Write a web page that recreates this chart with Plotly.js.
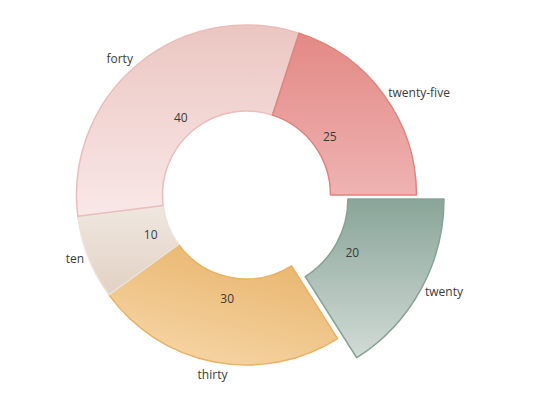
<!DOCTYPE html>
<html>
<head>
<meta charset="utf-8">
<script src="https://cdn.plot.ly/plotly-3.0.1.min.js"></script>
<style>html,body{margin:0;padding:0;background:#fff}#chart{width:550px;height:400px}</style>
</head>
<body>
<div id="chart"></div>
<script>
// ---- data ----
const labels = ['twenty-five', 'forty', 'ten', 'thirty', 'twenty'];
const values = [25, 40, 10, 30, 20];
const pulledLabel = 'twenty';
const centeredLabel = 'thirty';   // label drawn centred under its slice

// ---- style ----
const gradTop    = ['#e38985', '#ebc6c1', '#efe7e0', '#e8b36a', '#89a598'];
const gradBottom = ['#eeb3b2', '#f9e8e8', '#e2d1c3', '#f6d6a6', '#d2dbd7'];
const lineCols   = ['#e0837e', '#ebbcba', '#ece2d9', '#e9b162', '#87a295'];
const W = 550, H = 400;
function dom(cx, cy, r) {
  return {x: [(cx - r) / W, (cx + r) / W], y: [(H - cy - r) / H, (H - cy + r) / H]};
}
const font = {family: 'Open Sans, sans-serif', size: 12, color: '#3a3a3a'};
const clear = 'rgba(0,0,0,0)';

// slices are laid out clockwise from 3 o'clock, so feed them in reverse order
const idx = labels.map((_, i) => labels.length - 1 - i);
const L = idx.map(i => labels[i]);
const V = idx.map(i => values[i]);
const P = L.map(l => l === pulledLabel);
const C = L.map(l => l === centeredLabel);
const TOP = idx.map(i => gradTop[i]);
const LINE = idx.map(i => lineCols[i]);

const base = {
  type: 'pie', labels: L, values: V, sort: false,
  direction: 'clockwise', rotation: 90, hoverinfo: 'none',
  showlegend: false
};

const traces = [
  Object.assign({}, base, {
    domain: dom(246.5, 195, 170), hole: 0.494,
    marker: {colors: P.map((p, i) => p ? clear : TOP[i]),
             line: {color: P.map((p, i) => p ? clear : LINE[i]), width: 1.5}},
    texttemplate: P.map((p, i) => (p || C[i]) ? '' : '%{label}'),
    textposition: 'outside', outsidetextfont: font
  }),
  Object.assign({}, base, {
    domain: dom(256, 199, 188), hole: 0.489,
    marker: {colors: P.map((p, i) => p ? TOP[i] : clear),
             line: {color: P.map((p, i) => p ? LINE[i] : clear), width: 1.5}},
    texttemplate: P.map(p => p ? '%{label}' : ''),
    textposition: 'outside', outsidetextfont: font
  }),
  Object.assign({}, base, {
    domain: dom(264.5, 199, 170), hole: 0.494,
    marker: {colors: L.map(() => clear), line: {width: 0}},
    texttemplate: C.map(c => c ? '%{label}' : ''),
    textposition: 'outside', outsidetextfont: font
  }),
  Object.assign({}, base, {
    domain: dom(246.5, 197, 122), hole: 0.689,
    marker: {colors: L.map(() => clear), line: {width: 0}},
    texttemplate: P.map(p => p ? '' : '%{value}'),
    textposition: 'inside', insidetextorientation: 'horizontal', insidetextfont: font
  }),
  Object.assign({}, base, {
    domain: dom(256, 199, 128), hole: 0.719,
    marker: {colors: L.map(() => clear), line: {width: 0}},
    texttemplate: P.map(p => p ? '%{value}' : ''),
    textposition: 'inside', insidetextorientation: 'horizontal', insidetextfont: font
  })
];

const layout = {
  width: W, height: H, margin: {l: 0, r: 0, t: 0, b: 0},
  paper_bgcolor: '#fff', showlegend: false, font: font
};

Plotly.newPlot('chart', traces, layout, {staticPlot: true}).then(function () {
  const svgNS = 'http://www.w3.org/2000/svg';
  const svg = document.querySelector('#chart .main-svg');
  let defs = svg.querySelector('defs');
  if (!defs) { defs = document.createElementNS(svgNS, 'defs'); svg.insertBefore(defs, svg.firstChild); }
  labels.forEach(function (l, i) {
    const g = document.createElementNS(svgNS, 'linearGradient');
    g.setAttribute('id', 'sliceGrad_' + l);
    const diag = (l === 'thirty');
    g.setAttribute('x1', diag ? '0.75' : '0.5'); g.setAttribute('y1', '0');
    g.setAttribute('x2', diag ? '0.25' : '0.5'); g.setAttribute('y2', '1');
    [[0, gradTop[i]], [1, gradBottom[i]]].forEach(function (s) {
      const st = document.createElementNS(svgNS, 'stop');
      st.setAttribute('offset', s[0]); st.setAttribute('stop-color', s[1]);
      g.appendChild(st);
    });
    defs.appendChild(g);
  });
  const traceGroups = document.querySelectorAll('#chart .pielayer .trace');
  [0, 1].forEach(function (t) {
    const slices = traceGroups[t].querySelectorAll('g.slice');
    slices.forEach(function (s, j) {
      const show = t === 0 ? !P[j] : P[j];
      if (!show) return;
      const p = s.querySelector('path.surface');
      if (p) p.style.fill = 'url(#sliceGrad_' + L[j] + ')';
    });
  });
});
</script>
</body>
</html>
